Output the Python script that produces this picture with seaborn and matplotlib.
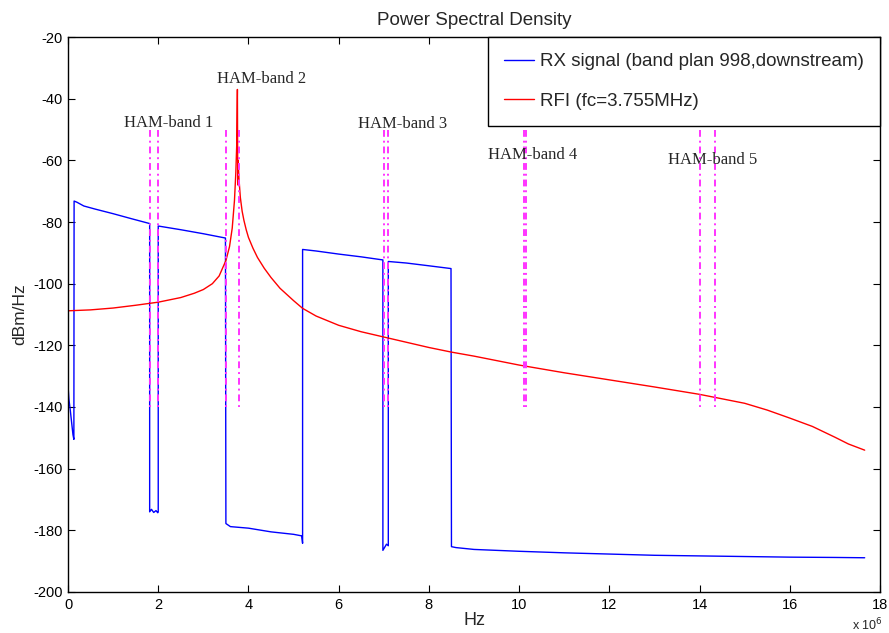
import numpy as np
import pandas as pd
import seaborn as sns
import matplotlib.pyplot as plt
from matplotlib.ticker import FuncFormatter

# RX signal (MHz, dBm/Hz), vertical edges by repeating the frequency
rx_mhz = [0.0, 0.02, 0.05, 0.08, 0.11, 0.13, 0.135, 0.2, 0.35, 0.6, 1.0, 1.4, 1.81,
          1.81, 1.85, 1.9, 1.95, 1.99, 2.0,
          2.0, 2.5, 3.0, 3.49,
          3.5, 3.6, 4.0, 4.5, 5.0, 5.18, 5.2,
          5.2, 5.5, 6.0, 6.5, 6.98,
          6.98, 7.02, 7.06, 7.1,
          7.1, 7.5, 8.0, 8.49,
          8.5, 8.6, 9.0, 10.0, 11.0, 12.0, 13.0, 14.0, 15.0, 16.0, 17.0, 17.66]
rx_db = [-133.0, -137.5, -141.0, -145.0, -149.0, -150.5, -73.2, -73.6, -74.8, -75.8, -77.3, -78.9, -80.5,
         -174.0, -173.2, -174.2, -173.6, -174.3, -174.0,
         -81.3, -82.5, -83.8, -85.2,
         -177.8, -178.8, -179.3, -180.5, -181.3, -181.8, -184.2,
         -88.9, -89.4, -90.4, -91.3, -92.3,
         -186.5, -185.5, -184.5, -185.0,
         -92.8, -93.3, -94.2, -95.1,
         -185.3, -185.6, -186.2, -186.8, -187.3, -187.7, -188.1, -188.3, -188.5, -188.7, -188.8, -188.9]

# RFI (fc = 3.755 MHz)
rfi_mhz = [0.0, 0.5, 1.0, 1.5, 2.0, 2.5, 2.8, 3.0, 3.2, 3.35, 3.5, 3.58, 3.64, 3.69, 3.72, 3.74, 3.755,
           3.76, 3.765, 3.77, 3.79, 3.82, 3.86, 3.9, 3.95, 4.0, 4.1, 4.2, 4.35, 4.5, 4.7, 5.0, 5.2, 5.5, 6.0,
           6.5, 7.0, 8.0, 8.5, 9.0, 10.0, 11.0, 12.0, 13.0, 14.0, 15.0, 15.5, 16.0, 16.5, 17.0, 17.3, 17.66]
rfi_db = [-108.8, -108.5, -107.9, -107.0, -106.0, -104.5, -103.1, -101.9, -100.0, -97.5, -92.5, -88.0, -82.0, -73.0, -64.0, -55.0, -37.0,
          -58.0, -68.0, -60.0, -66.0, -72.0, -76.5, -79.5, -82.5, -85.0, -88.5, -91.5, -95.0, -98.0, -101.5, -105.5, -108.0, -110.5, -113.5,
          -115.6, -117.3, -120.7, -122.2, -123.5, -126.4, -128.9, -131.2, -133.5, -135.9, -138.8, -141.0, -143.6, -146.3, -149.8, -152.0, -154.0]

# HAM band edges (MHz) and their labels
ham_edges = [1.81, 2.0, 3.5, 3.8, 7.0, 7.1, 10.1, 10.15, 14.0, 14.35]
ham_labels = ['HAM-band 1', 'HAM-band 2', 'HAM-band 3', 'HAM-band 4', 'HAM-band 5']
ham_label_x = [2.22, 4.3, 7.42, 10.31, 14.28]
ham_label_y = [-47.9, -33.6, -48.2, -58.3, -59.9]

sns.set_style('ticks')
plt.rcParams['font.family'] = ['Liberation Sans', 'DejaVu Sans']
plt.rcParams['axes.unicode_minus'] = False

fig = plt.figure(figsize=(8.89, 6.33), dpi=100)
ax = fig.add_axes([0.0765, 0.0648, 0.9134, 0.8767])

rx = pd.DataFrame({'f': np.array(rx_mhz) * 1e6, 'p': rx_db})
rfi = pd.DataFrame({'f': np.array(rfi_mhz) * 1e6, 'p': rfi_db})

sns.lineplot(data=rx, x='f', y='p', estimator=None, sort=False, color='#0000ff', lw=1,
             label='RX signal (band plan 998,downstream)', ax=ax)
sns.lineplot(data=rfi, x='f', y='p', estimator=None, sort=False, color='#ff0000', lw=1,
             label='RFI (fc=3.755MHz)', ax=ax)

for f in ham_edges:
    ax.plot([f * 1e6, f * 1e6], [-50, -140], color='#ff33ff', lw=1.4,
            dashes=(3.5, 2, 1, 2), zorder=3)

for txt, x, y in zip(ham_labels, ham_label_x, ham_label_y):
    ax.text(x * 1e6, y, txt, ha='center', va='center', fontsize=12,
            family=['Liberation Serif', 'DejaVu Serif'])

ax.set_xlim(0, 18e6)
ax.set_ylim(-200, -20)
ax.set_xticks(np.arange(0, 19, 2) * 1e6)
ax.set_yticks(np.arange(-200, -19, 20))
ax.xaxis.set_major_formatter(FuncFormatter(lambda v, p: f'{v / 1e6:g}'))
ax.tick_params(direction='in', length=5, width=0.8, top=True, right=True,
               labelsize=10.5, colors='black', pad=4)
for s in ax.spines.values():
    s.set_color('black')
    s.set_linewidth(1)

ax.set_title('Power Spectral Density', fontsize=13.5, pad=9)
ax.set_xlabel('Hz', fontsize=13, labelpad=0)
ax.set_ylabel('dBm/Hz', fontsize=12.5, labelpad=4)
ax.text(0.985, -0.045, r'x 10$^{6}$', transform=ax.transAxes, ha='center', va='top', fontsize=9)

leg = ax.legend(loc='upper right', bbox_to_anchor=(1, 1), borderaxespad=0, fontsize=13.5,
                frameon=True, fancybox=False, edgecolor='black', framealpha=1,
                handlelength=1.6, handletextpad=0.35, borderpad=0.85, labelspacing=1.2)
leg.get_frame().set_linewidth(1)

fig.savefig('out.png', dpi=100, facecolor='white')
